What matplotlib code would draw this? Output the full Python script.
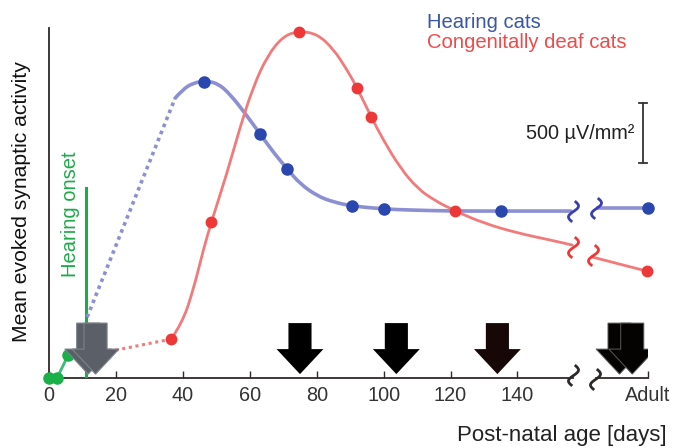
import matplotlib
matplotlib.use("Agg")
import numpy as np
import matplotlib.pyplot as plt
from matplotlib.patches import Polygon, PathPatch
from matplotlib.path import Path

plt.rcParams['font.family'] = ['Liberation Sans', 'DejaVu Sans']

# ---------------- data ----------------
# x in post-natal days (Adult drawn at 179 on a broken axis), y in arbitrary activity units
tick_pos = [0, 20, 40, 60, 80, 100, 120, 140, 179]
tick_labels = ['0', '20', '40', '60', '80', '100', '120', '140', 'Adult']

hear_x = [46.4, 63.1, 71.2, 90.6, 100.2, 135.2, 179.0]
hear_y = [296, 244, 209, 172, 169, 167, 170]
hear_curve_x = [37.7, 40.1, 43.1, 46.4, 50.3, 54.1, 59.2, 63.1, 67.0, 71.2, 75.1,
                80.2, 85.0, 90.6, 100.2, 108.0, 120.0, 135.2, 156.0]
hear_curve_y = [280, 289, 295, 297, 295, 284, 262, 244, 226, 209, 194,
                182, 176, 172, 169, 168, 167, 167, 167]
hear_dot_x = [11.4, 37.7]
hear_dot_y = [61, 280]
hear_adult_x = [164.0, 179.0]
hear_adult_y = [170, 170]

deaf_x = [36.5, 48.5, 74.8, 92.1, 96.3, 121.4, 178.6]
deaf_y = [39, 156, 346, 290, 261, 167, 107]
deaf_curve_x = [36.5, 39.8, 43.1, 46.1, 48.5, 53.2, 57.1, 61.0, 65.2, 70.0, 74.8,
                80.2, 85.0, 89.1, 92.1, 96.3, 99.9, 105.0, 110.0, 115.0, 121.4,
                129.8, 140.0, 149.9, 156.4]
deaf_curve_y = [39, 55, 88, 128, 156, 205, 251, 291, 322, 342, 347,
                344, 329, 308, 290, 261, 238, 210, 190, 178, 167,
                155, 145, 138, 133]
deaf_dot_x = [14.0, 36.5]
deaf_dot_y = [24, 39]
deaf_adult_x = [162.4, 178.6]
deaf_adult_y = [121, 107]

green_x = [0.0, 2.4, 5.7]
green_y = [0, 0, 23]
green_line_x = [2.4, 5.7, 10.0]
green_line_y = [0, 23, 33]
onset_day = 11.1
onset_top = 190

grey_arrows = [11.7, 13.9]
black_arrows = [75.0, 103.8, 134.0]
adult_arrows = [170.5, 174.3]

break_left, break_right = 156.5, 163.5
scale_x, scale_y0, scale_y1 = 177.4, 215, 275

# ---------------- colours ----------------
BLUE_LINE = '#8c8fd2'
BLUE_DOT = '#2a47b0'
RED_LINE = '#f27a7a'
RED_DOT = '#ee3838'
GREEN = '#1eaa4a'
AX = '#2e2a2a'

fig = plt.figure(figsize=(6.81, 4.48), dpi=100)
ax = fig.add_axes([0.072, 0.156, 0.8795, 0.7815])
ax.set_xlim(0, 179)
ax.set_ylim(0, 350)

for s in ['top', 'right', 'bottom']:
    ax.spines[s].set_visible(False)
ax.spines['left'].set_color(AX)
ax.spines['left'].set_linewidth(1.3)
ax.set_yticks([])


def smooth_line(xs, ys, color, lw, z=3):
    """Draw a polyline through read points, rounded with quadratic Bezier segments."""
    pts = list(zip(xs, ys))
    verts = [pts[0]]
    codes = [Path.MOVETO]
    for i in range(1, len(pts) - 1):
        mid = ((pts[i][0] + pts[i + 1][0]) / 2, (pts[i][1] + pts[i + 1][1]) / 2)
        verts += [pts[i], mid]
        codes += [Path.CURVE3, Path.CURVE3]
    verts.append(pts[-1])
    codes.append(Path.LINETO)
    ax.add_patch(PathPatch(Path(verts, codes), facecolor='none', edgecolor=color,
                           lw=lw, zorder=z, capstyle='round', joinstyle='round'))


# broken x axis
ax.plot([0, break_left], [0, 0], color=AX, lw=1.3, clip_on=False, zorder=2)
ax.plot([break_right, 179], [0, 0], color=AX, lw=1.3, clip_on=False, zorder=2)
ax.set_xticks(tick_pos)
ax.set_xticklabels(tick_labels, fontsize=14.3, color='#333333')
ax.tick_params(axis='x', direction='in', length=5, width=1, color=AX, pad=6)
ax.get_xticklabels()[-1].set_x(177.5)

# green onset
ax.plot(green_line_x, green_line_y, color='#3dbb7a', lw=2, zorder=3, clip_on=False)
ax.plot(green_x, green_y, 'o', color='#19b04a', ms=8, zorder=4, clip_on=False)
ax.plot([onset_day, onset_day], [0, onset_top], color=GREEN, lw=2.2, zorder=3)
ax.text(6.3, 101, 'Hearing onset', rotation=90, ha='center', va='bottom',
        color=GREEN, fontsize=14.5)

# hearing cats
ax.plot(hear_dot_x, hear_dot_y, color=BLUE_LINE, lw=2.6, ls=(0, (1, 1.1)), zorder=3)
smooth_line(hear_curve_x, hear_curve_y, BLUE_LINE, 2.6)
ax.plot(hear_adult_x, hear_adult_y, color=BLUE_LINE, lw=2.6, zorder=3)
ax.plot(hear_x, hear_y, 'o', color=BLUE_DOT, ms=8, zorder=5, clip_on=False)

# deaf cats
ax.plot(deaf_dot_x, deaf_dot_y, color=RED_LINE, lw=2.2, ls=(0, (1, 1.2)), zorder=3)
smooth_line(deaf_curve_x, deaf_curve_y, RED_LINE, 2.0)
ax.plot(deaf_adult_x, deaf_adult_y, color=RED_LINE, lw=2.0, zorder=3)
ax.plot(deaf_x, deaf_y, 'o', color=RED_DOT, ms=7.5, zorder=5, clip_on=False)

# break squiggles (S-shaped marker)
_t = np.linspace(0, 2, 40)
SQ = Path(np.column_stack([0.42 * np.sin(np.pi * _t) + 0.12 * (1 - _t), 1 - _t]))


def squiggle(x, y, color):
    ax.plot([x], [y], marker=SQ, ms=15, mfc='none', mec=color, mew=2.0,
            zorder=6, clip_on=False, ls='none')


squiggle(break_left, hear_curve_y[-1], '#3a3fb0')
squiggle(break_right, hear_adult_y[0], '#3a3fb0')
squiggle(break_left, deaf_curve_y[-1] - 2, RED_DOT)
squiggle(break_right - 0.8, deaf_adult_y[0] + 2, RED_DOT)
squiggle(break_left, 3, AX)
squiggle(break_right - 0.3, -1, AX)

# arrows
SHAFT_HW, HEAD_HW = 3.45, 7.0
SHAFT_TOP, HEAD_BASE, TIP = 55, 29, 4


def arrow(xc, face, edge, lw):
    verts = [(xc - SHAFT_HW, SHAFT_TOP), (xc + SHAFT_HW, SHAFT_TOP),
             (xc + SHAFT_HW, HEAD_BASE), (xc + HEAD_HW, HEAD_BASE),
             (xc, TIP), (xc - HEAD_HW, HEAD_BASE), (xc - SHAFT_HW, HEAD_BASE)]
    ax.add_patch(Polygon(verts, closed=True, facecolor=face, edgecolor=edge,
                         lw=lw, zorder=7, joinstyle='miter'))


for xc in grey_arrows:
    arrow(xc, '#5b6068', '#7d838a', 0.8)
for i, xc in enumerate(black_arrows):
    arrow(xc, '#000000' if i < 2 else '#170807', 'none', 0)
for xc in adult_arrows:
    arrow(xc, '#050202', '#5a5a5a', 0.7)

# scale bar
ax.plot([scale_x, scale_x], [scale_y0, scale_y1], color='#333333', lw=1.3, zorder=3)
ax.plot([scale_x - 1.2, scale_x + 1.2], [scale_y0, scale_y0], color='#333333', lw=1.3)
ax.plot([scale_x - 1.2, scale_x + 1.2], [scale_y1, scale_y1], color='#333333', lw=1.3)
ax.text(175.0, 245, '500 µV/mm²', ha='right', va='center', fontsize=14.3, color='#222222')

# legend texts
fig.text(427 / 681, 1 - 23 / 448, 'Hearing cats', color='#3b55a8', fontsize=14.6,
         ha='left', va='center')
fig.text(427 / 681, 1 - 43 / 448, 'Congenitally deaf cats', color='#ef4a4a', fontsize=14.6,
         ha='left', va='center')

# axis labels
fig.text(22 / 681, 1 - 202 / 448, 'Mean evoked synaptic activity', rotation=90,
         ha='center', va='center', fontsize=15.2, color='#111111')
fig.text(667 / 681, 1 - 435 / 448, 'Post-natal age [days]', ha='right', va='center',
         fontsize=16, color='#222222')

fig.savefig('out.png', dpi=100)
